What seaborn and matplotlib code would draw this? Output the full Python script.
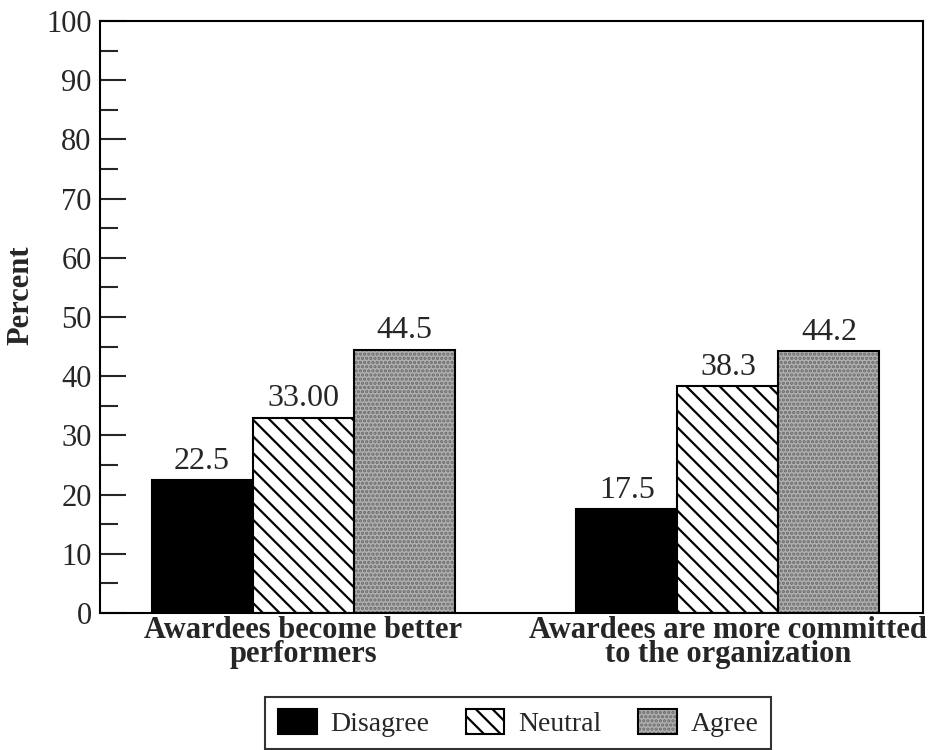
import numpy as np
import pandas as pd
import matplotlib
matplotlib.use("Agg")
import matplotlib.pyplot as plt
import seaborn as sns
from matplotlib.ticker import MultipleLocator

# ---- data ----
categories = ["Awardees become better\nperformers",
              "Awardees are more committed\nto the organization"]
responses = ["Disagree", "Neutral", "Agree"]
disagree = [22.5, 17.5]
neutral = [33.0, 38.3]
agree = [44.5, 44.2]
disagree_labels = ["22.5", "17.5"]
neutral_labels = ["33.00", "38.3"]
agree_labels = ["44.5", "44.2"]
y_ticks = [0, 10, 20, 30, 40, 50, 60, 70, 80, 90, 100]

df = pd.DataFrame({
    "category": categories * 3,
    "response": np.repeat(responses, len(categories)),
    "percent": disagree + neutral + agree,
})

sns.set_theme(style="ticks")
plt.rcParams["font.family"] = ["Liberation Serif", "DejaVu Serif"]
plt.rcParams["hatch.linewidth"] = 1.6

fig = plt.figure(figsize=(9.45, 7.5), dpi=100)
ax = fig.add_axes([0.1058, 0.1827, 0.8709, 0.7893])

sns.barplot(data=df, x="category", y="percent", hue="response",
            order=categories, hue_order=responses,
            palette=["black", "white", "#b0b0b0"], saturation=1,
            width=0.713, edgecolor="black", linewidth=1.5,
            errorbar=None, legend=False, ax=ax)

# hatches
for p in ax.containers[1]:
    p.set_hatch("\\\\")
for p in ax.containers[2]:
    p.set_hatch("....")
    if hasattr(p, "set_hatchcolor"):
        p.set_hatchcolor("#6a6a6a")
    else:
        p._hatch_color = matplotlib.colors.to_rgba("#6a6a6a")

# value labels
for cont, labs in zip(ax.containers, [disagree_labels, neutral_labels, agree_labels]):
    ax.bar_label(cont, labels=labs, padding=3, fontsize=23)

ax.set_xlim(-0.478, 1.459)
ax.set_ylim(0, 100)
ax.set_yticks(y_ticks)
ax.yaxis.set_minor_locator(MultipleLocator(5))
ax.tick_params(axis="y", which="major", direction="in", length=19, width=1.5,
               labelsize=22, pad=6, left=True)
ax.tick_params(axis="y", which="minor", direction="in", length=13, width=1.5, left=True)
ax.tick_params(axis="x", length=0, labelsize=22, pad=2)
for lbl in ax.get_xticklabels():
    lbl.set_fontweight("bold")
    lbl.set_linespacing(0.8)

for s in ax.spines.values():
    s.set_visible(True)
    s.set_linewidth(1.5)
    s.set_color("black")

ax.set_xlabel("")
ax.set_ylabel("Percent", fontsize=22, fontweight="bold")
ax.yaxis.set_label_coords(-0.078, 0.537)

# legend
handles = [ax.containers[i][0] for i in range(3)]
leg = fig.legend(handles, responses, loc="center",
                 bbox_to_anchor=(518 / 945, 1 - 723 / 750), ncol=3,
                 frameon=True, fancybox=False, edgecolor="black",
                 fontsize=20, handlelength=1.4, handleheight=1.0,
                 handletextpad=0.5, columnspacing=1.3, borderpad=0.45)
leg.get_frame().set_linewidth(1.5)

fig.savefig("out.png", dpi=100)
